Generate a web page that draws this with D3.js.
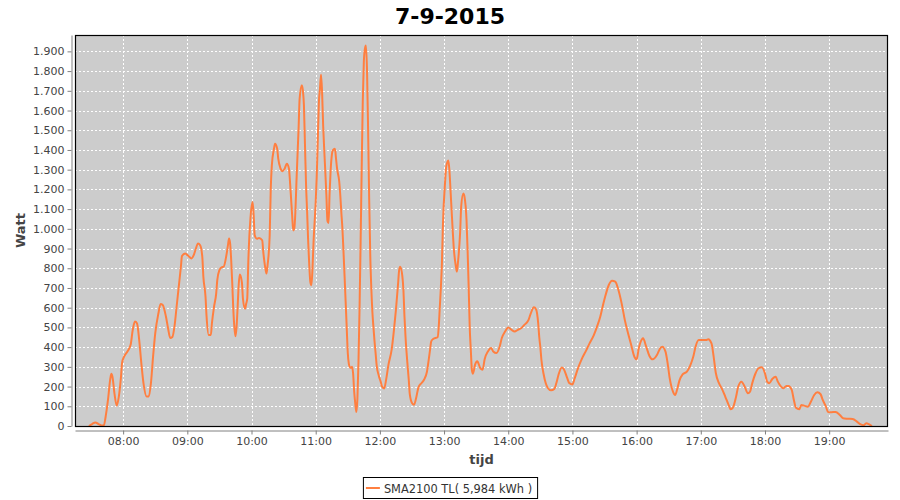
<!DOCTYPE html>
<html><head><meta charset="utf-8">
<script src="https://cdn.jsdelivr.net/npm/d3@7"></script>
<style>body{margin:0;background:#fff} svg{display:block}</style>
</head><body><svg id="c" width="900" height="500"></svg>
<script>
const chartTitle = "7-9-2015";
const seriesName = "SMA2100 TL( 5,984 kWh )";
const xLabel = "tijd";
const yLabel = "Watt";
const times = [
"07:28","07:31","07:34","07:37","07:40","07:42","07:44","07:46","07:48","07:49","07:50","07:52","07:54","07:56","07:58","07:59",
"08:01","08:04","08:07","08:09","08:11","08:13","08:15","08:17","08:19","08:22","08:24","08:26","08:28","08:30","08:33","08:35","08:37","08:40","08:42","08:44","08:46","08:48","08:50","08:52","08:54","08:55","08:58",
"09:01","09:04","09:06","09:08","09:10","09:12","09:14","09:15","09:17","09:18","09:20","09:22","09:23","09:25","09:27","09:28","09:30","09:32","09:34","09:36","09:38","09:39","09:40","09:41","09:42","09:43","09:44","09:45","09:46","09:47","09:48","09:49","09:51","09:52","09:54","09:55","09:56","09:57","09:59",
"10:01","10:02","10:03","10:05","10:07","10:10","10:11","10:13","10:14","10:15","10:17","10:18","10:19","10:21","10:22","10:24","10:25","10:27","10:29","10:31","10:33","10:35","10:36","10:37","10:38","10:39","10:40","10:41","10:42","10:44","10:45","10:47","10:48","10:49","10:50","10:51","10:52","10:53","10:54","10:55","10:56","10:57","10:58",
"11:00","11:01","11:02","11:03","11:04","11:05","11:06","11:07","11:08","11:09","11:10","11:11","11:12","11:13","11:14","11:15","11:16","11:18","11:19","11:20","11:22","11:23","11:24","11:25","11:26","11:27","11:28","11:29","11:30","11:31","11:32","11:33","11:34","11:35","11:36","11:37","11:38","11:39","11:40","11:41","11:42","11:43","11:44","11:45","11:46","11:47","11:48","11:49","11:50","11:51","11:52","11:53","11:54","11:55","11:56","11:57","11:59",
"12:01","12:02","12:04","12:06","12:08","12:11","12:13","12:15","12:17","12:18","12:19","12:21","12:22","12:23","12:24","12:26","12:27","12:28","12:30","12:32","12:34","12:36","12:39","12:41","12:44","12:45","12:47","12:48","12:50","12:54","12:55","12:56","12:57","12:58","12:59",
"13:01","13:02","13:04","13:05","13:06","13:07","13:08","13:09","13:11","13:12","13:13","13:15","13:16","13:18","13:19","13:21","13:22","13:23","13:24","13:25","13:26","13:27","13:29","13:31","13:34","13:36","13:38","13:41","13:44","13:46","13:49","13:52","13:54","13:57",
"14:00","14:03","14:06","14:09","14:12","14:15","14:19","14:21","14:24","14:26","14:28","14:29","14:30","14:31","14:33","14:35","14:37","14:40","14:43","14:45","14:47","14:50","14:52","14:55","14:57",
"15:00","15:02","15:05","15:09","15:13","15:16","15:20","15:23","15:26","15:28","15:31","15:34","15:37","15:40","15:43","15:46","15:49","15:52","15:55","15:58",
"16:00","16:02","16:05","16:06","16:09","16:12","16:15","16:19","16:22","16:24","16:27","16:29","16:31","16:34","16:36","16:38","16:40","16:43","16:47","16:50","16:53","16:55","16:58",
"17:01","17:05","17:07","17:10","17:12","17:14","17:17","17:20","17:23","17:26","17:28","17:30","17:33","17:35","17:38","17:41","17:44","17:46","17:48","17:51","17:54","17:57",
"18:00","18:02","18:04","18:07","18:10","18:12","18:15","18:17","18:20","18:22","18:25","18:27","18:29","18:32","18:34","18:37","18:40","18:43","18:46","18:49","18:52","18:54","18:57","18:59",
"19:02","19:06","19:10","19:13","19:17","19:22","19:26","19:29","19:32","19:35","19:37","19:40"
];
const watts = [
0,10,18,10,2,5,60,140,240,265,250,160,103,150,250,320,
353,378,412,488,530,520,437,319,218,150,150,218,353,470,572,619,614,555,496,446,451,505,606,707,808,862,875,
862,850,867,900,926,917,858,757,656,555,462,462,521,606,673,740,791,805,808,850,917,951,926,842,724,590,500,455,500,600,714,768,730,646,595,620,646,832,1052,
1136,1068,967,950,954,942,883,798,773,815,967,1204,1322,1406,1432,1406,1356,1308,1292,1305,1330,1305,1237,1153,1068,992,1001,1085,1237,1508,1660,1728,1702,1626,1423,1221,1085,933,815,730,714,798,933,
1136,1271,1457,1643,1711,1782,1690,1520,1400,1288,1170,1040,1030,1180,1300,1370,1398,1406,1356,1305,1240,1170,1080,1000,883,760,630,500,370,315,298,295,300,265,173,114,71,139,325,595,933,1305,1643,1846,1913,1930,1800,1500,1150,870,697,578,500,430,370,308,255,
220,200,190,240,310,387,479,589,720,790,808,760,690,555,450,300,235,160,117,108,145,195,218,232,275,310,390,429,442,450,500,600,700,825,1030,
1240,1314,1347,1297,1200,1100,1000,909,810,783,830,980,1111,1179,1165,1044,892,707,500,387,285,265,311,328,292,285,340,378,395,378,370,403,446,479,
500,488,479,488,496,513,538,570,602,592,521,450,400,336,265,218,193,181,188,218,260,297,288,245,218,
211,240,290,343,385,419,461,504,554,600,664,715,737,732,690,622,537,470,410,350,
338,394,440,445,402,355,338,360,394,402,377,318,240,174,157,188,230,262,276,305,352,400,436,
436,436,440,419,352,270,217,186,147,107,85,93,149,200,225,200,166,174,215,265,293,298,
267,225,217,240,250,225,200,191,203,203,183,132,92,85,107,102,98,124,157,171,161,132,98,71,
70,71,56,39,37,36,22,9,4,14,9,0
];
const yTickValues = d3.range(0, 2000, 100);
const xTickLabels = ["08:00","09:00","10:00","11:00","12:00","13:00","14:00","15:00","16:00","17:00","18:00","19:00"];
const xDomain = ["07:15","19:55"];
const yMax = 1983;

const parse = d3.timeParse("%H:%M");
const data = times.map((t, i) => ({t: parse(t), v: watts[i]}));

const L = 75, R = 888, T = 35, B = 426;
const svg = d3.select("#c");
const x = d3.scaleTime().domain(xDomain.map(parse)).range([L, R]);
const y = d3.scaleLinear().domain([0, yMax]).range([B, T]);
const nl = d3.formatLocale({decimal: ",", thousands: ".", grouping: [3], currency: ["€", ""]});
const fmt = nl.format(",d");
const font = "'DejaVu Sans', Verdana, sans-serif";

// plot background
svg.append("rect").attr("x", L).attr("y", T).attr("width", R - L).attr("height", B - T).attr("fill", "#cccccc");

// gridlines
const g = svg.append("g").attr("stroke", "#ffffff").attr("stroke-width", 1).attr("stroke-dasharray", "2,2").attr("shape-rendering", "crispEdges");
g.selectAll(".hg").data(yTickValues.filter(d => d > 0)).join("line")
  .attr("x1", L).attr("x2", R).attr("y1", d => Math.round(y(d)) + 0.5).attr("y2", d => Math.round(y(d)) + 0.5);
g.selectAll(".vg").data(xTickLabels.map(parse)).join("line")
  .attr("y1", T).attr("y2", B).attr("x1", d => Math.round(x(d)) + 0.5).attr("x2", d => Math.round(x(d)) + 0.5);

// line
svg.append("path").datum(data)
  .attr("fill", "none").attr("stroke", "#ff7f40").attr("stroke-width", 2).attr("stroke-linejoin", "round")
  .attr("d", d3.line().x(d => x(d.t)).y(d => y(d.v)).curve(d3.curveMonotoneX));

// plot outline
svg.append("rect").attr("x", L + 0.5).attr("y", T + 0.5).attr("width", R - L - 1).attr("height", B - T)
  .attr("fill", "none").attr("stroke", "#000").attr("stroke-width", 1.2);

// axes
const yAxis = d3.axisLeft(y).tickValues(yTickValues).tickFormat(fmt).tickSizeInner(4).tickSizeOuter(0).tickPadding(3);
const ya = svg.append("g").attr("transform", `translate(${L - 4 + 0.5},0)`).call(yAxis);
const xAxis = d3.axisBottom(x).tickValues(xTickLabels.map(parse)).tickFormat(d3.timeFormat("%H:%M")).tickSizeInner(4).tickSizeOuter(0).tickPadding(3);
const xa = svg.append("g").attr("transform", `translate(0,${B + 4 + 0.5})`).call(xAxis);
[ya, xa].forEach(a => {
  a.select(".domain").attr("stroke", "#808080");
  a.selectAll(".tick line").attr("stroke", "#808080");
  a.selectAll("text").attr("fill", "#444444").style("font-family", font).style("font-size", "11px");
});

// title
svg.append("text").attr("x", 450).attr("y", 24).attr("text-anchor", "middle")
  .style("font-family", font).style("font-weight", "bold").style("font-size", "22px").attr("fill", "#000").text(chartTitle);

// axis labels
svg.append("text").attr("x", (L + R) / 2).attr("y", 464).attr("text-anchor", "middle")
  .style("font-family", font).style("font-weight", "bold").style("font-size", "13px").attr("fill", "#444444").text(xLabel);
svg.append("text").attr("transform", `translate(25,${(T + B) / 2}) rotate(-90)`).attr("text-anchor", "middle")
  .style("font-family", font).style("font-weight", "bold").style("font-size", "13px").attr("fill", "#444444").text(yLabel);

// legend
const lg = svg.append("g");
const lt = lg.append("text").attr("x", 384).attr("y", 493).style("font-family", font).style("font-size", "11.4px").attr("fill", "#333").text(seriesName);
const tw = lt.node().getComputedTextLength();
const boxW = tw + 26;
const bx = 450 - boxW / 2;
lt.attr("x", bx + 21);
lg.insert("rect", "text").attr("x", bx + 0.5).attr("y", 477.5).attr("width", boxW).attr("height", 21).attr("fill", "#fff").attr("stroke", "#000");
lg.append("line").attr("x1", bx + 3).attr("x2", bx + 17).attr("y1", 488).attr("y2", 488).attr("stroke", "#ff7f40").attr("stroke-width", 2);
</script>
</body></html>
